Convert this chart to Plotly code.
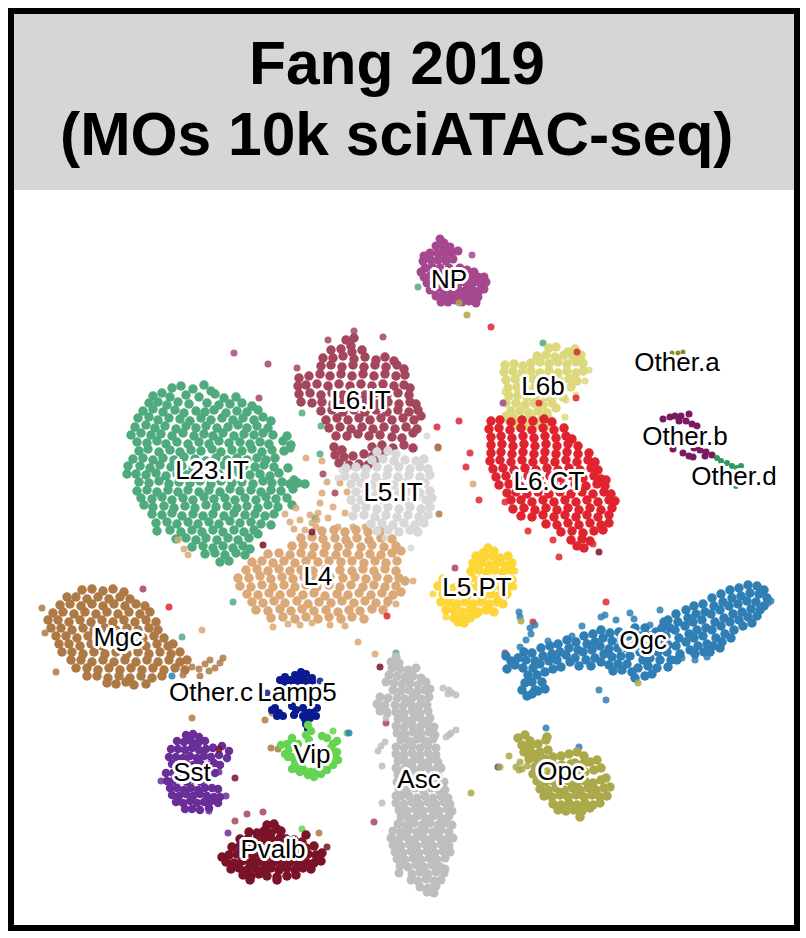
import plotly.graph_objects as go

# positions, in embedding units, one list per cell type
L23_IT = [
    (172,388),(181,386),(193,389),(204,385),(211,391),
    (153,396),(162,393),(170,397),(186,395),(199,397),(215,394),(224,398),(236,397),
    (149,403),(158,402),(167,405),(178,402),(189,404),(207,403),(219,405),(230,404),(242,403),(252,406),
    (143,411),(153,409),(163,412),(175,410),(184,413),(196,411),(205,412),(214,410),(226,413),(237,411),(247,412),(258,410),
    (138,418),(149,417),(158,420),(169,418),(180,419),(190,421),(201,418),(211,420),(222,418),(233,420),(243,418),(254,420),(263,417),(271,421),
    (135,427),(146,425),(155,428),(165,426),(176,429),(186,426),(196,428),(206,426),(217,428),(228,427),(238,425),(247,428),(257,426),(268,428),
    (131,435),(141,433),(151,435),(161,434),(172,436),(183,433),(194,436),(204,434),(213,436),(223,433),(234,436),(244,434),(254,435),(263,433),(273,435),(287,436),
    (137,442),(147,443),(157,441),(166,444),(177,442),(188,444),(199,442),(209,444),(219,441),(229,443),(240,442),(250,444),(260,442),(269,444),(283,441),(291,445),
    (139,451),(148,449),(159,452),(170,450),(180,452),(191,450),(201,451),(212,449),(221,452),(232,450),(242,451),(252,449),(262,452),(272,450),(284,451),(290,448),
    (133,459),(143,458),(153,460),(163,458),(174,460),(184,457),(195,459),(206,461),(216,458),(227,460),(237,458),(247,460),(257,458),(266,460),(275,458),
    (128,466),(140,466),(150,468),(160,465),(171,467),(182,466),(193,468),(203,465),(214,467),(224,465),(234,468),(244,466),(255,467),(264,465),(274,467),(288,468),
    (127,474),(136,474),(146,475),(156,473),(166,476),(177,474),(187,475),(198,473),(208,476),(219,474),(229,476),(239,473),(250,475),(260,474),(270,476),(279,473),(294,480),
    (139,482),(149,483),(159,481),(169,484),(179,482),(190,483),(200,481),(211,484),(221,481),(232,483),(242,482),(253,484),(263,481),(272,483),(282,482),(290,484),(298,483),(305,484),
    (137,491),(147,490),(157,492),(168,490),(178,492),(188,490),(199,492),(209,490),(220,492),(230,489),(240,491),(251,490),(261,492),(271,490),(281,491),(293,489),
    (141,498),(152,499),(162,497),(172,500),(183,498),(193,500),(204,497),(214,499),(225,498),(235,500),(245,498),(256,500),(266,497),(276,499),(287,498),
    (153,507),(144,505),(164,506),(174,508),(185,506),(195,508),(206,505),(216,507),(227,506),(237,508),(247,506),(258,508),(268,505),(278,507),(292,505),
    (152,514),(162,515),(172,513),(182,516),(193,514),(203,516),(213,514),(224,516),(234,513),(245,515),(255,514),(265,516),(274,514),
    (156,523),(167,522),(177,524),(188,522),(198,524),(209,522),(219,524),(230,521),(240,523),(251,522),(261,524),(271,525),
    (157,531),(170,530),(181,532),(192,530),(202,532),(213,530),(223,532),(234,530),(244,532),(254,530),(258,534),
    (176,539),(186,538),(196,540),(206,538),(217,540),(228,538),(238,540),(249,538),
    (192,547),(203,546),(213,548),(223,546),(233,548),(243,546),(250,549),
    (205,554),(215,553),(225,555),(236,553),(245,555),
    (220,562),(229,561),
]
L4 = [
    (322,531),(334,530),(345,532),(356,530),(368,532),(380,531),
    (301,538),(312,537),(323,539),(335,538),(346,540),(357,538),(369,540),(381,538),(392,539),
    (292,546),(303,545),(314,547),(326,546),(338,547),(349,545),(361,547),(372,545),(384,547),(396,546),
    (268,554),(279,553),(290,555),(301,553),(312,555),(324,553),(336,555),(347,553),(359,555),(370,554),(381,555),(392,553),(401,551),
    (252,562),(262,561),(273,563),(284,561),(295,563),(306,561),(318,562),(329,561),(341,562),(352,561),(364,563),(375,561),(386,563),(397,561),
    (246,570),(257,569),(268,571),(279,569),(290,571),(301,570),(313,571),(326,569),(340,570),(352,571),(363,569),(374,571),(385,569),(396,571),
    (238,578),(249,578),(260,576),(271,579),(282,577),(293,579),(304,577),(316,579),(330,577),(343,578),(355,577),(366,579),(377,577),(388,579),(399,578),(405,581),
    (240,586),(251,587),(262,585),(273,587),(284,585),(295,587),(306,585),(317,587),(329,585),(340,587),(351,585),(363,587),(374,585),(385,587),(396,586),
    (247,594),(258,595),(269,593),(280,595),(291,593),(303,595),(314,593),(325,596),(337,594),(348,595),(359,593),(371,595),(382,593),(393,595),(401,592),
    (252,602),(263,603),(274,601),(285,603),(297,601),(308,604),(319,602),(331,603),(342,601),(354,603),(365,601),(376,603),(388,601),
    (256,610),(268,611),(280,609),(291,611),(302,609),(314,611),(326,610),(338,612),(349,610),(360,611),(372,609),(383,610),
    (271,618),(283,617),(295,619),(306,617),(318,619),(329,617),(341,619),(352,617),(364,619),
]
L5_IT = [
    (377,452),(388,451),(396,454),
    (372,460),(383,459),(394,461),(405,460),(416,461),(424,459),
    (346,468),(356,467),(366,469),(377,467),(388,469),(399,467),(410,469),(420,467),(428,469),
    (345,476),(355,477),(365,475),(376,477),(387,475),(398,477),(409,475),(420,477),(430,475),
    (351,484),(361,483),(372,485),(383,483),(394,485),(405,483),(416,485),(425,483),
    (356,492),(366,491),(377,493),(388,491),(399,493),(410,491),(420,493),(430,491),
    (351,500),(361,500),(372,498),(383,500),(394,498),(405,500),(416,498),(426,500),(432,498),
    (356,508),(366,507),(377,509),(388,507),(399,509),(410,507),(421,509),(430,507),
    (353,516),(364,515),(375,517),(386,515),(397,517),(408,515),(419,517),(428,515),
    (371,524),(382,523),(393,525),(404,523),(415,525),(424,523),
    (377,531),(388,530),(399,532),(410,530),(418,532),
]
L6_IT = [
    (346,340),(354,338),(351,346),
    (331,350),(341,349),(352,352),(362,350),
    (323,358),(333,358),(343,356),(354,359),(365,357),(376,360),(394,361),(385,357),
    (321,366),(331,365),(342,367),(353,365),(364,367),(375,365),(386,367),(397,365),(404,369),
    (299,378),(309,376),(320,374),(330,376),(341,374),(352,376),(363,374),(374,376),(385,374),(396,376),(405,375),
    (298,386),(306,385),(317,384),(328,386),(339,384),(350,386),(361,384),(372,386),(383,384),(394,386),(404,385),(410,388),
    (299,394),(310,393),(321,395),(332,393),(343,395),(354,393),(365,395),(376,393),(387,395),(398,393),(409,395),
    (301,402),(312,403),(322,402),(333,404),(344,402),(355,404),(366,402),(377,404),(388,402),(399,404),(410,402),(416,404),
    (321,411),(332,410),(343,412),(354,410),(365,412),(376,410),(387,412),(398,410),(409,412),(418,410),
    (326,420),(337,418),(348,420),(359,418),(370,420),(381,418),(392,420),(403,418),(414,420),(421,416),
    (329,428),(340,427),(351,429),(362,427),(373,429),(384,427),(395,429),(406,427),(417,429),
    (336,436),(347,436),(358,434),(369,436),(380,435),(392,437),(402,438),(413,433),
    (334,447),(342,450),(372,447),(382,445),(393,448),(404,445),(413,448),
    (335,455),(344,457),(353,456),(364,454),(373,456),(383,453),
    (339,463),(349,465),(359,464),(368,465),
]
L6_CT = [
    (491,421),(500,420),(511,422),(522,420),(533,421),(544,419),(552,422),
    (489,429),(499,428),(510,430),(521,428),(532,430),(543,428),(554,430),(564,428),
    (491,437),(501,436),(512,438),(523,436),(534,438),(545,436),(556,438),(566,436),(572,439),
    (491,445),(502,444),(513,446),(524,444),(535,446),(546,444),(557,446),(568,444),(578,446),
    (491,453),(501,452),(512,454),(523,452),(534,454),(545,452),(556,454),(567,452),(578,454),(589,453),
    (490,461),(500,460),(511,462),(522,460),(533,462),(544,460),(555,462),(566,460),(577,462),(588,460),(595,462),
    (493,469),(503,468),(514,470),(525,468),(536,470),(547,468),(558,470),(569,468),(580,470),(591,468),(598,470),
    (496,477),(506,476),(517,478),(528,476),(539,478),(550,476),(561,478),(572,476),(583,478),(594,476),(601,479),(606,480),
    (499,485),(509,484),(520,486),(531,484),(542,486),(553,484),(564,486),(575,484),(586,486),(597,484),(605,486),
    (507,493),(516,492),(527,494),(538,492),(549,494),(560,492),(571,494),(582,492),(593,494),(604,492),(611,494),
    (511,500),(521,500),(532,502),(543,500),(554,502),(565,500),(576,502),(587,500),(598,502),(609,500),(615,501),
    (513,509),(524,508),(535,510),(546,508),(557,510),(568,508),(579,510),(590,508),(601,510),(612,508),
    (521,516),(532,517),(543,515),(554,517),(565,515),(576,517),(587,515),(598,517),(609,515),
    (546,524),(557,525),(568,523),(579,525),(590,523),(601,525),(609,523),
    (561,532),(572,531),(583,533),(594,531),(603,530),
    (571,540),(582,539),(590,541),(577,546),(584,548),
]
L6b = [
    (549,348),(556,347),(575,349),(568,352),
    (537,356),(546,355),(555,357),(564,355),(573,357),(581,355),
    (531,363),(540,362),(549,364),(558,362),(567,364),(576,362),(583,363),
    (505,365),(514,364),(523,366),(504,372),(513,371),(522,373),(531,371),(540,373),(549,371),(558,373),(567,371),(576,373),(583,371),
    (506,380),(515,379),(524,381),(533,379),(542,381),(551,379),(560,381),(569,379),(577,381),
    (508,388),(517,387),(526,389),(535,387),(544,389),(553,387),(562,389),(571,387),
    (509,396),(518,395),(527,397),(536,395),(545,397),(554,395),(563,397),
    (506,403),(516,403),(525,405),(534,403),(543,405),(552,403),
    (511,411),(520,411),(529,413),(538,411),(547,413),(556,408),
    (506,416),(514,418),(523,420),(532,418),(541,420),(549,419),
    (515,425),(527,426),(536,424),(545,427),
]
NP = [
    (440,239),(444,243),(436,246),(444,248),(450,247),
    (430,253),(438,253),(445,255),(452,252),(458,251),
    (424,256),(431,260),(438,260),(446,261),(423,261),(453,259),
    (425,268),(432,267),(421,272),(440,268),(449,268),(460,268),(467,270),(474,272),
    (424,277),(431,275),(440,276),(450,276),(463,275),(470,277),(478,277),(484,277),
    (427,283),(434,282),(444,283),(453,282),(460,282),(467,284),(474,282),(481,284),(486,282),
    (430,290),(437,288),(444,290),(451,290),(458,289),(465,291),(472,289),(479,291),(484,289),
    (436,296),(443,295),(450,297),(457,295),(464,297),(471,295),(478,297),
    (441,302),(448,302),(455,300),(462,302),(469,301),(476,303),
]
L5_PT = [
    (488,548),(494,551),(483,553),
    (476,556),(484,557),(492,556),(500,558),(508,556),
    (473,563),(481,563),(489,565),(497,563),(505,565),(512,563),
    (471,571),(479,570),(487,572),(495,570),(503,572),(511,570),
    (443,579),(472,578),(480,580),(488,578),(496,580),(504,578),(512,580),
    (438,586),(446,586),(454,588),(462,586),(470,588),(478,586),(486,588),(494,586),(502,588),(510,586),
    (443,594),(451,596),(459,594),(467,596),(475,594),(483,596),(491,594),(499,596),(507,594),
    (441,602),(449,602),(457,604),(465,602),(473,604),(481,602),(489,604),(497,602),(503,604),
    (446,610),(454,610),(462,612),(470,610),(478,612),(486,610),(494,612),
    (454,618),(462,616),(470,618),(476,614),(458,622),(464,623),
]
Mgc = [
    (82,590),(92,589),(103,591),(113,589),(124,592),
    (67,597),(76,597),(87,599),(98,597),(109,599),(120,597),(130,599),
    (60,605),(70,604),(81,606),(92,604),(103,606),(114,604),(125,606),(136,604),(145,606),
    (53,613),(63,612),(74,614),(85,612),(96,614),(107,612),(118,614),(129,612),(140,614),(150,612),
    (48,620),(58,620),(69,622),(80,620),(91,622),(102,620),(113,622),(124,620),(135,622),(146,620),(156,622),
    (51,628),(61,628),(72,630),(83,628),(94,630),(105,628),(116,630),(127,628),(138,630),(149,628),(158,630),
    (56,636),(66,636),(77,638),(88,636),(99,638),(110,636),(121,638),(132,636),(143,638),(154,636),(164,638),
    (59,644),(69,644),(80,646),(91,644),(102,646),(113,644),(124,646),(135,644),(146,646),(157,644),(168,646),(173,644),
    (62,652),(72,652),(83,654),(94,652),(105,654),(116,652),(127,654),(138,652),(149,654),(160,652),(171,654),(180,652),
    (71,660),(81,660),(92,662),(103,660),(114,662),(125,660),(136,662),(147,660),(158,662),(169,660),(180,662),(187,660),
    (76,668),(87,668),(98,670),(109,668),(120,670),(131,668),(142,670),(153,668),(164,670),(175,668),(185,670),
    (87,676),(97,676),(108,678),(119,676),(130,678),(141,676),(152,678),(162,676),
    (107,683),(116,684),(126,682),(134,685),(146,684),
]
Lamp5 = [
    (280,680),(285,677),(290,680),(295,675),(300,678),(306,674),(312,678),(300,683),(291,683),(312,682),(284,682),(296,681),(305,681),(301,672),
    (275,708),(279,713),(283,716),(272,710),(277,716),(292,706),(296,710),(294,715),
    (303,708),(307,713),(303,716),(312,711),(317,708),(310,718),(316,716),(305,719),(306,724),(308,729),
]
Vip = [
    (308,725),(311,731),(306,735),(309,740),(292,738),(298,744),(281,745),(289,749),(285,754),(292,757),(294,744),(287,744),
    (295,763),(292,769),(300,772),(308,775),(314,777),(321,774),(327,770),(333,765),(338,760),(337,752),(288,757),(297,769),
    (333,744),(337,741),(327,738),(322,736),(302,767),(305,771),(311,772),(318,770),(324,767),(330,760),(333,755),(331,748),
]
Sst = [
    (186,735),(193,734),(199,737),(177,741),(184,742),(191,741),(198,743),(205,741),
    (171,749),(178,749),(185,750),(192,748),(199,750),(206,749),(213,748),(222,746),(229,751),
    (169,757),(176,757),(183,758),(190,756),(197,758),(204,756),(211,757),(219,755),(227,758),
    (172,764),(179,765),(186,763),(193,765),(200,763),(207,765),(214,763),(220,765),
    (166,773),(173,773),(180,772),(187,774),(194,772),(201,774),(208,772),(215,773),
    (167,781),(173,781),(180,780),(187,782),(194,780),(201,782),(208,780),
    (170,788),(177,788),(184,790),(191,788),(198,790),(205,788),(212,788),(218,789),
    (172,795),(179,796),(186,794),(193,796),(200,794),(207,796),(214,797),(220,797),
    (176,802),(183,803),(190,801),(197,803),(204,802),(211,801),(218,803),
    (185,809),(192,809),(200,810),(209,808),
]
Pvalb = [
    (267,825),(274,824),(277,829),(249,832),(257,833),(264,831),(271,833),(281,831),
    (240,839),(248,839),(256,840),(264,838),(272,840),(280,838),(286,839),(294,840),(306,835),(302,842),
    (232,847),(240,846),(248,847),(256,848),(264,846),(272,848),(280,846),(288,848),(296,846),(306,848),(314,846),
    (222,857),(229,855),(237,854),(245,855),(253,856),(261,854),(269,856),(277,854),(285,856),(293,854),(300,855),(308,854),(316,855),(322,853),
    (226,862),(234,863),(242,861),(250,863),(258,862),(266,864),(274,862),(282,864),(290,862),(298,864),(306,862),(314,863),(321,861),
    (231,869),(239,868),(247,870),(255,868),(263,870),(271,868),(279,870),(287,868),(295,870),(303,868),(311,869),
    (243,875),(251,876),(259,874),(267,876),(277,877),(287,876),(296,875),(250,880),(277,880),
]
Asc = [
    (396,657),(391,662),(399,663),(392,668),(400,669),(408,670),(416,668),(389,675),(397,676),(405,677),(413,676),(421,678),
    (386,682),(394,683),(402,684),(410,683),(418,685),(426,682),(393,690),(401,691),(409,690),(417,692),(425,690),(430,689),
    (380,697),(388,698),(397,698),(405,699),(413,697),(421,699),(429,697),(377,704),(385,705),(395,705),(403,706),(411,704),(419,706),(427,705),
    (380,711),(387,712),(396,712),(404,713),(412,711),(420,713),(428,711),(398,719),(406,720),(414,718),(422,720),(430,718),
    (396,726),(404,727),(412,725),(420,727),(428,725),(434,727),(397,733),(405,734),(413,732),(421,734),(429,732),(435,735),
    (401,740),(409,741),(417,739),(425,741),(433,739),(396,747),(404,748),(412,746),(420,748),(428,746),(436,748),
    (396,754),(404,755),(412,753),(420,755),(428,753),(436,755),(398,761),(406,762),(414,760),(422,762),(430,760),(438,762),
    (396,768),(404,769),(412,767),(420,769),(428,767),(436,769),(441,768),(398,775),(406,776),(414,774),(422,776),(430,774),(438,776),
    (397,782),(405,783),(413,781),(421,783),(429,781),(437,783),(444,782),(399,789),(407,790),(415,788),(423,790),(431,788),(439,790),(445,790),
    (401,796),(409,796),(396,796),(417,798),(425,796),(433,798),(441,796),(448,798),
    (396,803),(404,804),(412,802),(420,804),(428,802),(436,804),(444,802),(450,804),
    (399,810),(407,811),(415,809),(423,811),(431,809),(439,811),(447,809),(452,811),
    (401,817),(409,818),(417,816),(425,818),(433,816),(441,818),(449,816),
    (398,824),(406,825),(414,823),(422,825),(430,823),(438,825),(446,823),(452,825),
    (393,831),(401,832),(409,830),(417,832),(425,830),(433,832),(441,830),(449,832),
    (391,838),(399,839),(407,837),(415,839),(423,837),(431,839),(439,837),(447,839),(453,838),
    (393,845),(401,846),(409,844),(417,846),(425,844),(433,846),(441,844),(449,846),
    (395,852),(403,853),(411,851),(419,853),(427,851),(435,853),(443,851),(450,852),
    (397,859),(405,860),(413,858),(421,860),(429,858),(437,860),(445,858),
    (400,866),(408,867),(416,865),(424,867),(432,865),(440,867),(445,869),
    (399,873),(412,874),(420,872),(428,874),(436,872),(444,873),
    (411,880),(418,881),(426,879),(434,881),(441,880),(420,887),(428,888),(436,886),(434,893),(427,892),
]
Ogc = [
    (506,656),(511,661),(518,658),(507,669),(515,665),
    (524,652),(526,660),(523,668),(528,675),(525,683),(522,690),(527,696),
    (532,653),(535,661),(533,668),(537,675),(532,682),(535,690),(532,694),
    (541,648),(543,656),(540,664),(545,672),(542,682),(538,691),(545,689),
    (550,646),(552,654),(549,661),(553,669),(558,644),(560,652),(557,660),(561,667),
    (567,640),(569,648),(566,655),(570,662),(576,642),(578,650),(575,658),(579,666),
    (584,636),(587,644),(583,652),(586,660),(593,634),(595,642),(592,650),(595,658),(591,666),
    (601,630),(603,638),(600,646),(604,654),(601,662),(610,633),(612,641),(609,649),(612,657),(609,665),(613,671),
    (619,632),(621,640),(618,648),(621,656),(618,664),(622,670),(628,636),(627,648),(630,656),(627,664),(632,672),
    (635,628),(640,636),(636,644),(645,628),(650,636),(646,646),(656,632),(660,642),(655,645),(666,636),(668,645),
    (640,652),(643,660),(638,668),(645,676),(635,678),(650,658),(648,666),(652,674),(658,652),(660,660),(657,668),(662,628),(664,622),
    (668,620),(670,628),(667,652),(671,660),(668,667),(676,614),(678,622),(675,630),(679,638),(676,646),(680,654),(677,660),
    (686,610),(688,618),(685,626),(689,634),(686,642),(690,650),(694,606),(696,614),(693,622),(697,630),(694,638),(698,646),(695,654),
    (703,604),(705,612),(702,620),(706,628),(703,636),(707,644),(704,652),(712,598),(714,606),(711,614),(715,622),(712,630),(716,638),(713,646),(710,652),
    (721,594),(723,602),(720,610),(724,618),(721,626),(725,634),(722,642),(720,648),(730,590),(732,598),(729,606),(733,614),(730,622),(734,630),(731,638),
    (739,588),(741,596),(738,604),(742,612),(739,620),(743,626),(748,585),(750,593),(747,601),(751,609),(748,617),(752,623),
    (757,586),(759,594),(756,602),(760,610),(757,616),(764,590),(767,598),(764,606),
]
Opc = [
    (518,738),(525,735),(530,741),(547,737),(522,745),(530,747),(538,744),(546,740),
    (524,752),(532,753),(540,752),(548,750),(529,759),(537,759),(545,759),(553,757),(561,756),(569,754),(577,752),(584,756),
    (535,767),(544,766),(553,765),(562,765),(571,764),(575,763),(583,764),(590,762),(597,760),
    (533,774),(541,774),(550,773),(559,773),(568,772),(577,772),(585,772),(594,770),(601,768),
    (537,781),(545,782),(553,781),(561,783),(569,781),(577,783),(585,781),(593,783),(601,780),(606,778),
    (540,789),(548,790),(556,788),(564,790),(572,788),(580,790),(588,788),(596,790),(604,788),(610,787),
    (544,796),(552,797),(560,795),(568,797),(576,795),(584,797),(592,795),(600,797),(607,796),
    (553,804),(561,805),(569,803),(577,805),(585,803),(593,805),(600,803),
    (558,810),(566,811),(574,810),(582,811),(590,808),(580,817),
]
Other_a = [(672,353),(678,353),(683,352)]
Other_b = [
    (663,419),(670,417),(675,416),(681,416),(679,421),(686,421),(692,424),(689,414),(697,426),
    (673,449),(683,453),(694,448),(700,450),(706,452),(712,455),(705,456),(693,457),(689,456),
]
Other_d = [(717,458),(721,461),(727,463),(732,466),(737,468),(741,466),(736,486)]

# loose cells outside the main clouds, by the cell type colour they carry
L23_IT_loose = [(233,602),(302,413),(321,426),(320,454),(315,518),(347,437),(418,287),(543,343),(182,637),(396,653)]
L4_loose = [(285,514),(296,508),(290,522),(300,520),(310,515),(294,529),(305,530),(316,527),(312,523),(288,624),(300,625),
            (312,623),(330,625),(345,626),(273,627),(306,458),(322,461),(327,482),(340,483),(347,492),(322,493),(320,503),
            (318,513),(317,520),(333,507),(328,518),(345,513),(338,527),(353,527),(365,527),(413,581),(387,604),(396,604),
            (473,484),(375,654),(202,630),(358,642),(178,540),(184,549),(188,555)]
L5_IT_loose = [(385,538),(411,548),(431,497),(427,436),(338,478),(342,470)]
L6_IT_loose = [(297,368),(268,364),(328,340),(354,331),(383,337),(259,398),(438,447),(323,474),(335,493),(143,589),
               (386,723),(374,822),(455,568),(505,653),(376,461),(247,814),(235,821),(263,812)]
L6_CT_loose = [(491,327),(459,421),(437,427),(470,453),(466,467),(479,500),(505,502),(528,531),(553,540),(559,557),
               (169,607),(387,616),(606,602),(533,622),(539,403),(577,352),(576,398),(593,544)]
L6b_loose = [(589,370),(585,381),(576,395),(566,400),(565,417),(505,392),(508,421)]
NP_loose = [(472,255),(234,353),(503,403)]
L5_PT_loose = [(433,594),(446,617),(515,571),(514,587)]
Mgc_loose = [(42,608),(45,633),(56,672),(183,675),(192,667),(199,669),(205,664),(210,660),(209,671),(215,668),(220,663),
             (223,658),(200,676),(439,514),(192,718),(271,748),(278,749),(272,713),(265,720),(319,833),(438,448)]
Lamp5_loose = [(320,681),(267,693),(213,747)]
Vip_loose = [(333,731),(347,733),(302,829)]
Sst_loose = [(161,781),(219,772),(226,796),(209,811),(498,767),(228,833)]
Pvalb_loose = [(263,545),(312,532),(380,667),(235,778),(219,749),(599,552),(327,847)]
Asc_loose = [(443,688),(449,690),(452,693),(456,695),(448,694),(446,737),(451,733),(456,730),(449,735),(378,751),(381,746),
             (385,742),(382,766),(382,803),(386,718),(388,714)]
Ogc_loose = [(520,647),(526,640),(531,634),(535,625),(530,628),(616,620),(605,615),(601,617),(582,626),(572,636),(548,641),
             (630,613),(660,610),(707,657),(682,658),(695,660),(650,625),(634,619),(519,612),(520,617),(546,728),(579,747),
             (172,676),(349,733),(606,700),(599,690),(771,601),(768,603)]
Opc_loose = [(520,762),(527,766),(522,769),(521,621),(638,683),(509,756),(516,767),(519,770),(500,767),(471,793),(467,315),(459,303)]

labels = ["NP", "L6.IT", "L6b", "Other.a", "Other.b", "Other.d", "L23.IT", "L5.IT", "L6.CT", "L4",
          "L5.PT", "Mgc", "Ogc", "Other.c", "Lamp5", "Vip", "Sst", "Asc", "Opc", "Pvalb"]
label_x = [449, 361, 543, 677, 685, 734, 212, 393, 549, 318, 477, 118, 643, 211, 297, 312, 192, 419, 561, 273]
label_y = [281, 402, 388, 364, 438, 478, 472, 494, 483, 578, 589, 639, 642, 694, 694, 756, 774, 781, 773, 851]

clusters = [
    ("L23.IT", L23_IT, L23_IT_loose, "#4fab7e", 9.5), ("L4", L4, L4_loose, "#dba878", 9.5),
    ("L6.IT", L6_IT, L6_IT_loose, "#a4465c", 9.5), ("L5.IT", L5_IT, L5_IT_loose, "#d8d8d8", 9.5),
    ("L6b", L6b, L6b_loose, "#dcd97c", 9.5), ("L6.CT", L6_CT, L6_CT_loose, "#e0242f", 9.5),
    ("NP", NP, NP_loose, "#a6488f", 9), ("L5.PT", L5_PT, L5_PT_loose, "#fdd535", 9.5),
    ("Mgc", Mgc, Mgc_loose, "#ad7a46", 9.5), ("Lamp5", Lamp5, Lamp5_loose, "#0a1a90", 8),
    ("Vip", Vip, Vip_loose, "#64d452", 8.5), ("Sst", Sst, Sst_loose, "#6a2e98", 8.5),
    ("Pvalb", Pvalb, Pvalb_loose, "#7a1228", 9.5), ("Asc", Asc, Asc_loose, "#bebebe", 9),
    ("Ogc", Ogc, Ogc_loose, "#2f7fb5", 9.5), ("Opc", Opc, Opc_loose, "#aba94a", 9.5),
    ("Other.a", Other_a, [], "#8c8a2e", 5), ("Other.b", Other_b, [], "#781a62", 7), ("Other.d", Other_d, [], "#2e9a60", 6),
]

fig = go.Figure()
for name, pts, loose, colour, dot in clusters:
    fig.add_trace(go.Scatter(x=[p[0] for p in pts], y=[p[1] for p in pts], mode="markers", name=name,
                             marker=dict(size=dot, color=colour, line_width=0)))
    if loose:
        fig.add_trace(go.Scatter(x=[p[0] for p in loose], y=[p[1] for p in loose], mode="markers", name=name,
                                 marker=dict(size=7, color=colour, opacity=0.85, line_width=0)))

halo = ",".join(f"{a}px {b}px 0.5px #fff" for a, b in
                [(-2, -2), (2, -2), (-2, 2), (2, 2), (0, -3), (0, 3), (-3, 0), (3, 0), (-1, -3), (1, 3), (3, 1), (-3, -1)])
fig.add_trace(go.Scatter(x=label_x, y=label_y, mode="text", text=labels, hoverinfo="skip",
                         textposition="middle center",
                         textfont=dict(family="Liberation Sans", size=26, color="#000", shadow=halo)))

# grey title band and the thick frame
fig.add_shape(type="rect", xref="paper", yref="paper", x0=0, x1=1, y0=1, y1=1 + 176 / 735,
              fillcolor="#d6d6d8", line_width=0, layer="below")
fig.add_shape(type="rect", xref="paper", yref="paper", x0=-3 / 780, x1=1 + 3 / 780, y0=-3 / 735, y1=1 + 179 / 735,
              fillcolor="rgba(0,0,0,0)", line=dict(color="#000", width=6))
for text, base in [("Fang 2019", 91), ("(MOs 10k sciATAC-seq)", 20)]:
    fig.add_annotation(text=text, xref="x", yref="paper", x=396.5, y=1 + base / 735, yanchor="bottom", showarrow=False,
                       font=dict(family="Liberation Sans", size=60.5, color="#000", weight="bold"))

fig.update_xaxes(range=[14, 794], visible=False)
fig.update_yaxes(range=[925, 190], visible=False)
fig.update_layout(width=806, height=938, margin=dict(l=14, r=12, t=190, b=13), showlegend=False,
                  plot_bgcolor="#fff", paper_bgcolor="#fff")

fig.write_html("out.html", config={"displayModeBar": False}, post_script="document.body.style.margin='0';")
